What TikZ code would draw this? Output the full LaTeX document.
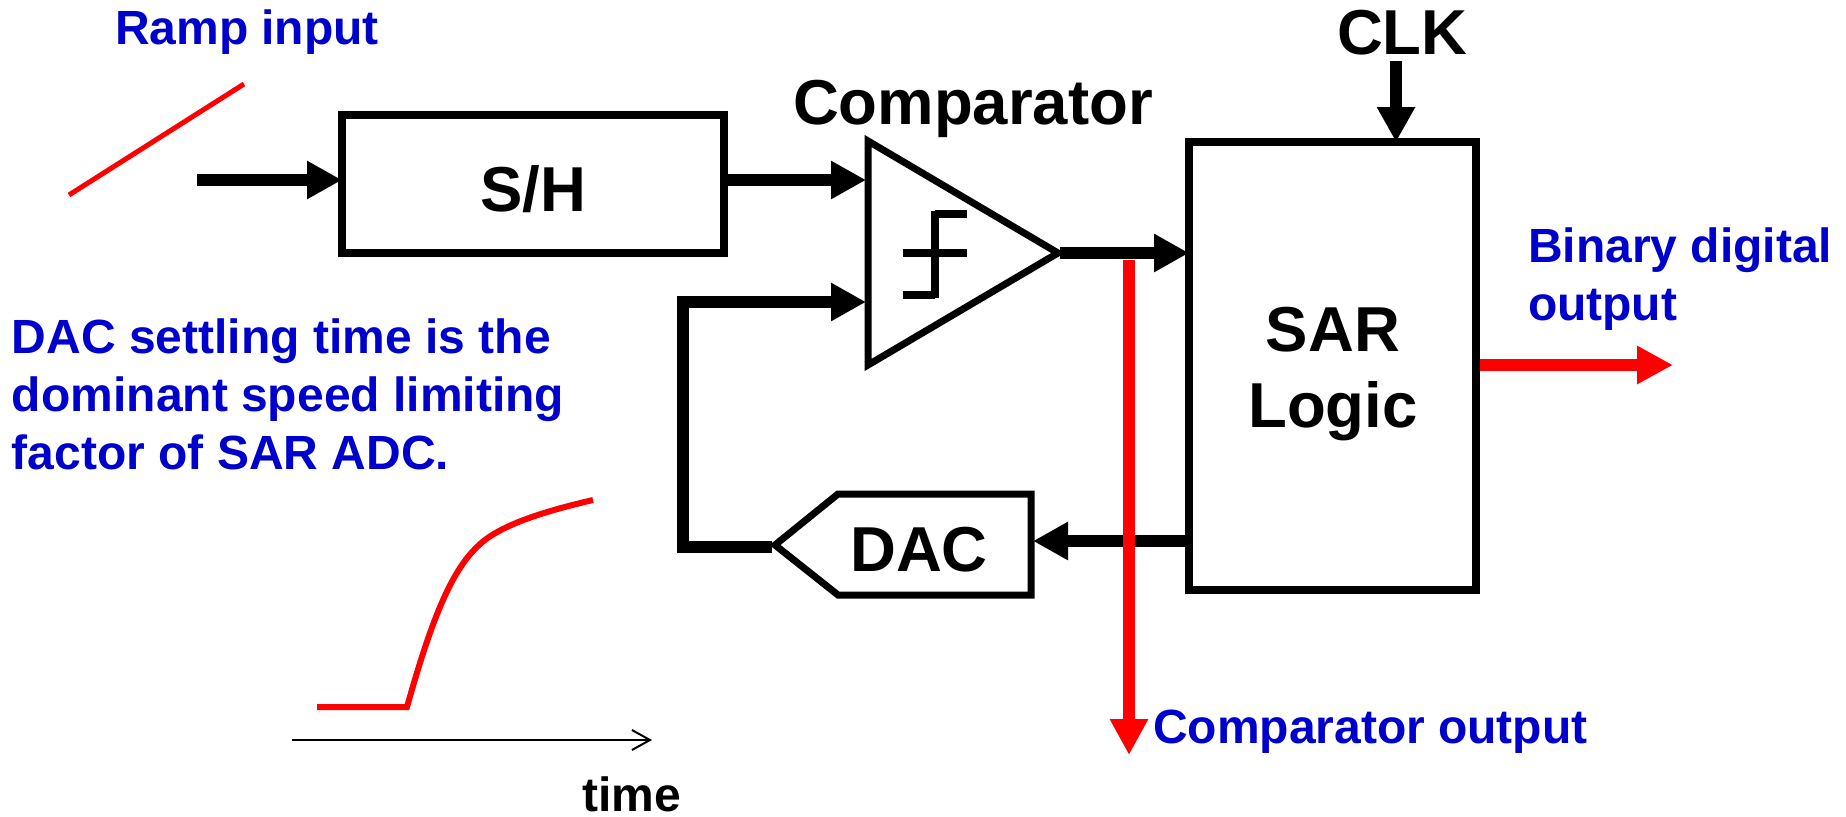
\documentclass[tikz,border=0pt]{standalone}
\usepackage{fontspec}
\setmainfont{Liberation Sans}
\usetikzlibrary{arrows.meta,calc}
\definecolor{lblue}{RGB}{0,0,204}
\tikzset{
  blockbox/.style={draw=black,line width=7.5pt,rectangle,inner sep=0pt,outer sep=0pt,miter limit=10},
  shapeline/.style={draw=black,line width=7pt,line join=miter,miter limit=20},
  wire/.style={draw=black,line width=12pt,line join=miter,-{Triangle[length=35pt,width=36pt]}},
  redwire/.style={draw=red,line width=12pt,-{Triangle[length=36pt,width=36pt]}},
  redcurve/.style={draw=red,line width=6pt,line join=miter},
  symbolline/.style={draw=black,line width=8pt},
  bigtext/.style={inner sep=0pt,outer sep=0pt,font=\fontsize{63.5}{76}\selectfont\bfseries,text=black},
  midtext/.style={inner sep=0pt,outer sep=0pt,font=\fontsize{48}{58}\selectfont\bfseries,text=black},
  bluetext/.style={inner sep=0pt,outer sep=0pt,font=\fontsize{48}{58}\selectfont\bfseries,text=lblue,align=left},
}
\begin{document}
\begin{tikzpicture}[x=1pt,y=-1pt]
\useasboundingbox (0,0) rectangle (1846,816);
% blocks
\node[blockbox,minimum width=382pt,minimum height=138pt] (sh) at (533,184) {};
\node[blockbox,minimum width=287pt,minimum height=448pt] (sar) at (1332.5,366) {};
\node[bigtext,anchor=base] (shlabel) at (533,211) {S/H};
\node[bigtext,anchor=center,align=center] (sarlabel) at (1333,374) {SAR\\Logic};
% comparator
\coordinate (ctop) at (868,141);
\coordinate (cbot) at (868,365);
\coordinate (ctip) at (1058,253);
\draw[shapeline] (ctop) -- (ctip) -- (cbot) -- cycle;
\coordinate (cin1) at (866,180);
\coordinate (cin2) at (866,302);
\coordinate (cout) at (1060,253);
\draw[symbolline] (903,294.5) -- (935,294.5) (935,298) -- (935,210.5) (935,214) -- (967,214) (903,253) -- (967,253);
% DAC
\coordinate (dtip) at (775,545);
\draw[shapeline] (dtip) -- (838,494) -- (1031,494) -- (1031,595) -- (838,595) -- cycle;
\coordinate (deast) at (1033,541);
\node[bigtext,anchor=base] (daclabel) at (919,571) {DAC};
% texts
\node[bigtext,anchor=base west] (cmplabel) at (793,124) {Comparator};
\node[bigtext,anchor=base west] (clklabel) at (1337,55) {CLK};
\node[midtext,anchor=base] (timelabel) at (632,811) {time};
\node[bluetext,anchor=base west] (ramplabel) at (115,45) {Ramp input};
\node[bluetext,anchor=north west] (daclimit) at (12,319) {DAC settling time is the\\dominant speed limiting\\factor of SAR ADC.};
\node[bluetext,anchor=north west] (binlabel) at (1528,228) {Binary digital\\output};
\node[bluetext,anchor=base west] (cmpout) at (1153,743) {Comparator output};
% free ends
\coordinate (inA) at (197,180);
\coordinate (clkA) at (1396,61);
\coordinate (redA) at (1129,260);
\coordinate (redB) at (1129,755);
\coordinate (outB) at (1673,365);
\coordinate (outA) at (1480,365);
\coordinate (fbA) at (772,547);
\coordinate (fbcorner) at (683,302);
\coordinate (fbcorner2) at (683,547);
% connectors
\draw[wire] (inA) -- (sh.west |- inA);
\draw[wire] (sh.east |- inA) -- (cin1);
\draw[wire] (fbA) -- (fbcorner2) -- (fbcorner) -- (cin2);
\draw[wire] (cout) -- (sar.west |- cout);
\draw[wire] (clkA) -- (clkA |- sar.north);
\draw[wire] (sar.west |- deast) -- (deast);
\draw[redwire] (outA) -- (outB);
\draw[redwire] (redA) -- (redB);
% traces
\coordinate (rampA) at (69,195);
\coordinate (rampB) at (244,84);
\draw[redcurve,line width=5pt] (rampA) -- (rampB);
\draw[redcurve] (317,707) -- (407,707) .. controls (430,625) and (450,572) .. (478,546) .. controls (500,524) and (550,510) .. (593,500);
\coordinate (timeA) at (292,740);
\coordinate (timeB) at (652,740);
\draw[draw=black,line width=2pt,-{Straight Barb[length=18pt,width=20pt]}] (timeA) -- (timeB);
\end{tikzpicture}
\end{document}
